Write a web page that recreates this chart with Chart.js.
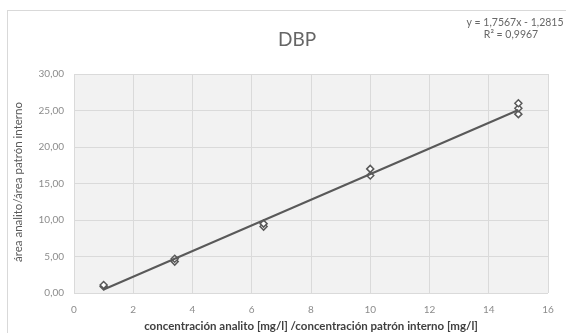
<!DOCTYPE html>
<html><head><meta charset="utf-8">
<script src="https://cdn.jsdelivr.net/npm/chart.js@4"></script>
<style>
html,body{margin:0;padding:0;background:#fff;overflow:hidden;}
#wrap{position:absolute;left:0;top:0;width:566px;height:333px;}
#frame{position:absolute;left:7px;top:10px;width:570px;height:340px;border:1px solid #d9d9d9;box-sizing:border-box;}
canvas{position:absolute;left:0;top:0;}
</style></head>
<body>
<div id="wrap"><div id="frame"></div><canvas id="c" width="566" height="333"></canvas></div>
<script>
const chartTitle = "DBP";
const equationLines = ["y = 1,7567x - 1,2815", "R² = 0,9967"];
const xAxisTitle = "concentración analito [mg/l] /concentración patrón interno [mg/l]";
const yAxisTitle = "área analito/área patrón interno";
const concentrations = [1, 1, 3.4, 3.4, 6.4, 6.4, 10, 10, 15, 15, 15];
const areaRatios = [0.9, 1.1, 4.3, 4.7, 9.1, 9.5, 16.1, 17.0, 24.5, 25.3, 26.0];
const trendX = [1, 15];
const trendY = [0.48, 25.07];

const bgPlugin = {
  id: 'bg',
  beforeDraw(chart) {
    const {ctx, chartArea: a} = chart;
    ctx.save();
    ctx.fillStyle = '#f2f2f2';
    ctx.fillRect(a.left, a.top, a.right - a.left, a.bottom - a.top);
    ctx.restore();
  },
  afterDraw(chart) {
    const {ctx, chartArea: a} = chart;
    ctx.save();
    ctx.fillStyle = '#666666';
    ctx.textAlign = 'center';
    ctx.textBaseline = 'middle';
    ctx.font = '19px Lato';
    ctx.fillText(chartTitle, 297, 40);
    ctx.font = '10.5px Lato';
    ctx.fillText(equationLines[0], 515, 23);
    ctx.fillText(equationLines[1], 511, 35);
    ctx.font = 'bold 11.5px Lato';
    ctx.fillStyle = '#404040';
    ctx.fillText(xAxisTitle, 311, 326);
    ctx.translate(18, 182);
    ctx.rotate(-Math.PI / 2);
    ctx.font = '11.5px Lato';
    ctx.fillStyle = '#595959';
    ctx.fillText(yAxisTitle, 0, 0);
    ctx.restore();
  }
};

new Chart(document.getElementById('c'), {
  type: 'scatter',
  data: {
    datasets: [
      {
        type: 'line',
        data: trendX.map((x, i) => ({x, y: trendY[i]})),
        borderColor: '#595959',
        borderWidth: 2,
        pointRadius: 0,
        fill: false
      },
      {
        data: concentrations.map((x, i) => ({x, y: areaRatios[i]})),
        pointStyle: 'rectRot',
        pointRadius: 3.5,
        pointBackgroundColor: '#ffffff',
        pointBorderColor: '#595959',
        pointBorderWidth: 1.5
      }
    ]
  },
  options: {
    responsive: false,
    animation: false,
    devicePixelRatio: 1,
    layout: {padding: {left: 10, right: 18, top: 74, bottom: 0}},
    plugins: {legend: {display: false}, tooltip: {enabled: false}},
    scales: {
      x: {
        type: 'linear', min: 0, max: 16,
        ticks: {stepSize: 2, color: '#8c8c8c', font: {family: 'Lato', size: 10}, padding: 11},
        grid: {color: '#dadada', drawTicks: false},
        border: {display: false},
        afterFit(s) { s.height = 40; }
      },
      y: {
        min: 0, max: 30,
        ticks: {stepSize: 5, color: '#8c8c8c', font: {family: 'Lato', size: 10}, padding: 10,
          callback: v => v.toFixed(2).replace('.', ',')},
        grid: {color: '#dadada', drawTicks: false},
        border: {display: false},
        afterFit(s) { s.width = 64; }
      }
    }
  },
  plugins: [bgPlugin]
});
</script>
</body></html>
